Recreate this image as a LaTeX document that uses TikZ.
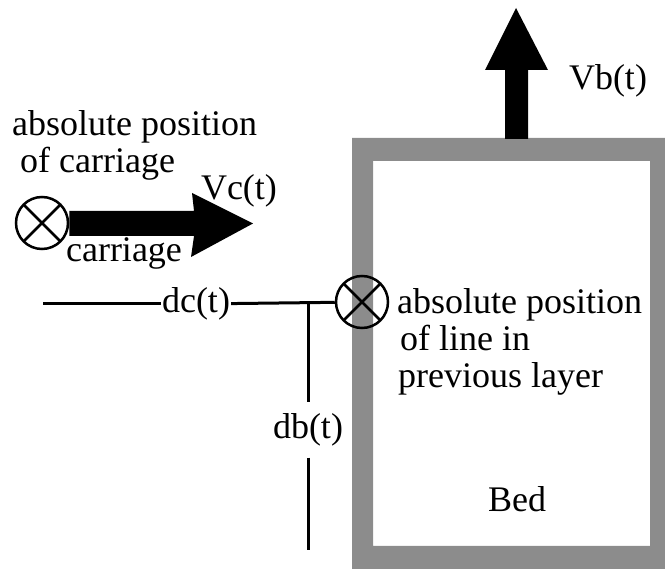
\documentclass[tikz,border=0pt]{standalone}
\usepackage{fontspec}
\setmainfont{Liberation Serif}
\tikzset{
  lbl/.style={font=\fontsize{36}{37}\selectfont, inner sep=0pt},
  xcirc/.style={circle, draw, line width=2.5pt, minimum size=52pt, inner sep=0pt,
    path picture={\draw[line width=2.5pt]
      (path picture bounding box.north west) -- (path picture bounding box.south east)
      (path picture bounding box.north east) -- (path picture bounding box.south west);}},
  wire/.style={line width=3pt},
  bigarrow/.style={fill=black},
  bedframe/.style={fill=black!45, even odd rule}
}
\begin{document}
\begin{tikzpicture}[x=1pt,y=-1pt]
\useasboundingbox (0,0) rectangle (665,569);
% bed frame
\fill[bedframe] (352,138) rectangle (665,569) (373,161) rectangle (650,546);
% Vb arrow
\fill[bigarrow] (505,139) -- (505,70) -- (485,70) -- (516,8) -- (548,70) -- (528,70) -- (528,139) -- cycle;
\node[lbl, anchor=base] (vb) at (608,90) {Vb(t)};
% carriage circle and Vc arrow
\node[xcirc] (xc) at (42,223) {};
\fill[bigarrow] (xc.east |- 0,211) -- (194,211) -- (192,193) -- (253,223.5) -- (191,257) -- (194,236) -- (xc.east |- 0,236) -- cycle;
\node[lbl, anchor=base] (vc) at (239,200) {Vc(t)};
\node[lbl, anchor=base] (car) at (124,262) {carriage};
\node[lbl, anchor=north west, align=left] (apc) at (12,110) {absolute position\\\hspace*{8pt}of carriage};
% line-in-previous-layer circle
\node[xcirc] (xl) at (362,302) {};
\node[lbl, anchor=north west, align=left] (apl) at (397,288) {absolute position\\\hspace*{3pt}of line in\\\hspace*{1pt}previous layer};
\node[lbl, anchor=base] (bed) at (517,512) {Bed};
% distances
\node[lbl, inner sep=1pt] (dc) at (196,304) {dc(t)};
\coordinate (L) at (43,304);
\coordinate (J) at (308,303);
\coordinate (B) at (308,550);
\node[lbl, inner sep=11pt] (db) at (308,430) {db(t)};
\draw[wire] (L) -- (dc);
\draw[wire] (dc) -- (xl);
\draw[wire] (J) -- (db);
\draw[wire] (db) -- (B);
\end{tikzpicture}
\end{document}
